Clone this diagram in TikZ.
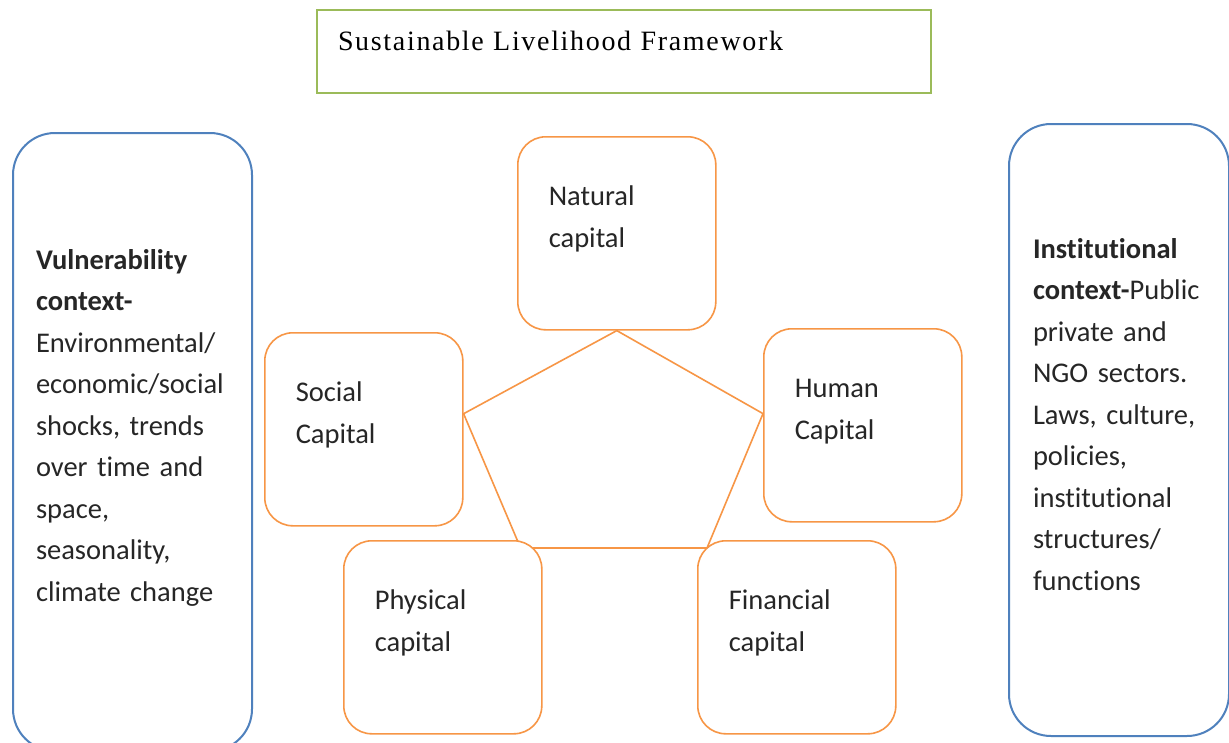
\documentclass[tikz,border=0pt]{standalone}
\usepackage{fontspec}
\setmainfont{Carlito}[Ligatures=NoCommon]
\newfontfamily\headfont{Liberation Serif}[LetterSpace=6]
\usepackage{tikz}
\usetikzlibrary{calc,backgrounds}
\definecolor{capitalorange}{HTML}{F79646}
\definecolor{contextblue}{HTML}{4F81BD}
\definecolor{headgreen}{HTML}{9BBB59}
\tikzset{
    %Define style for the five capital boxes
    capital/.style={
           rectangle,
           rounded corners=28pt,
           draw=capitalorange, line width=1.6pt,
           fill=white,
           anchor=north west,
           minimum width=198pt,
           minimum height=193pt,
           inner xsep=31pt, inner ysep=0pt,
           text width=136pt,
           text height=69pt,
           text depth=124pt,
           align=left,
           text=black!85,
           font=\fontsize{28.5}{41.5}\selectfont},
    %Define style for the two context boxes
    context/.style={
           rectangle,
           rounded corners=42pt,
           draw=contextblue, line width=2pt,
           fill=white,
           anchor=north west,
           inner ysep=0pt,
           align=left,
           text=black!85,
           font=\fontsize{28.5}{41.5}\selectfont},
    %Define style for the title box
    heading/.style={
           rectangle,
           draw=headgreen, line width=2pt,
           anchor=north west,
           minimum width=614pt,
           inner xsep=21pt, inner ysep=0pt,
           text width=572pt,
           text height=40pt,
           text depth=43pt,
           align=left,
           font=\headfont\fontsize{28}{30}\selectfont},
    % Define style for the pentagon
    link/.style={
           draw=capitalorange,
           line width=1.6pt,
           line join=miter}
}

\begin{document}
\begin{tikzpicture}[x=1pt,y=-1pt]
\useasboundingbox (0,0) rectangle (1229,742);
 %title
\node[heading] (title) at (316,9) {Sustainable Livelihood Framework};
 %context boxes
\node[context, minimum width=239pt, inner xsep=23pt, text width=193pt,
      text height=136pt, text depth=482pt] (vulnerability) at (12,132)
     {\textbf{Vulnerability}\\ \textbf{context-}\\ Environmental/\\ economic/social\\
      shocks, trends\\ over time and\\ space,\\ seasonality,\\ climate change};
\node[context, minimum width=220pt, inner xsep=24pt, text width=172pt,
      text height=134pt, text depth=478pt] (institutional) at (1008,123)
     {\textbf{Institutional}\\ \textbf{context-}Public\\ private and\\ NGO sectors.\\
      Laws, culture,\\ policies,\\ institutional\\ structures/\\ functions};
 %capitals
\node[capital] (natural) at (517,136) {Natural\\ capital};
\node[capital] (social) at (264,332) {Social\\ Capital};
\node[capital] (human) at (763,328) {Human\\ Capital};
\node[capital] (physical) at (343,540) {Physical\\ capital};
\node[capital] (financial) at (697,540) {Financial\\ capital};
 %pentagon corners
\coordinate (v-social) at ($(social.north east)!0.42!(social.south east)$);
\coordinate (v-human) at ($(human.north west)!0.44!(human.south west)$);
\coordinate (v-physical) at ($(physical.north east)+(-22,8)$);
\coordinate (v-financial) at ($(financial.north west)+(10,8)$);
\begin{pgfonlayer}{background}
\fill[white] (0,0) rectangle (1229,742);
\draw[link] (natural.south) -- (v-social) -- (v-physical)
    -- (v-financial) -- (v-human) -- cycle;
\end{pgfonlayer}
\end{tikzpicture}
\end{document}
